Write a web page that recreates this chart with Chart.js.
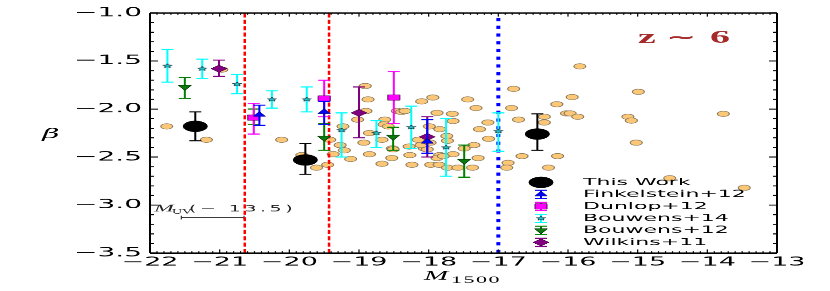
<!DOCTYPE html>
<html>
<head>
<meta charset="utf-8">
<script src="https://cdn.jsdelivr.net/npm/chart.js@4.4.1/dist/chart.umd.min.js"></script>
<style>
html, body { margin: 0; padding: 0; background: #fff; }
#beta { display: block; }
</style>
</head>
<body>
<canvas id="beta" width="830" height="640" style="width:830px;height:291px"></canvas>
<script>
// the source figure is stretched sideways, so draw tall and squeeze it down with css
const S = 2.2;
const H = 640;

const xMin = -22, xMax = -13;
const yMin = -3.5, yMax = -1.0;

// individual galaxies (orange)
const galM = [-21.76, -21.19, -20.97, -20.11, -19.82, -19.61, -19.45, -19.37, -19.42, -19.27,
  -19.21, -19.12, -19.23, -19.02, -18.91, -18.87, -18.90, -18.85, -18.93, -18.85,
  -18.63, -18.64, -18.58, -18.67, -18.52, -18.67, -18.53, -18.45, -18.39, -18.34,
  -18.10, -17.94, -18.28, -18.27, -18.24, -18.15, -18.06, -17.99, -17.88, -17.84,
  -17.66, -17.65, -17.74, -17.73, -17.84, -17.88, -17.97, -17.85, -17.73, -18.02,
  -18.11, -17.98, -17.58, -17.44, -17.32, -17.15, -17.27, -17.14, -17.35, -17.49,
  -17.65, -17.29, -17.79, -17.37, -16.86, -16.88, -16.78, -16.81, -16.71, -16.66,
  -16.34, -16.34, -16.16, -16.15, -16.28, -16.02, -15.83, -15.94, -15.97, -15.86,
  -14.99, -15.14, -15.09, -15.02, -13.77, -14.54, -13.47, -18.51];
const galBeta = [-2.18, -2.32, -1.59, -2.32, -2.48, -2.61, -2.58, -2.47, -2.32, -2.375,
  -2.43, -2.52, -2.18, -2.11, -1.76, -1.90, -2.02, -2.25, -2.35, -2.47,
  -2.11, -2.16, -2.18, -2.32, -2.41, -2.57, -2.51, -2.02, -2.03, -2.02,
  -1.92, -1.88, -2.39, -2.48, -2.58, -2.32, -2.41, -2.18, -2.04, -2.21,
  -2.05, -2.125, -2.28, -2.33, -2.48, -2.51, -2.58, -2.58, -2.61, -2.42,
  -2.375, -2.35, -2.61, -1.90, -1.99, -2.14, -2.21, -2.31, -2.375, -2.41,
  -2.47, -2.51, -2.49, -2.61, -2.56, -2.61, -1.79, -1.99, -2.11, -2.49,
  -2.08, -2.14, -1.95, -2.49, -2.61, -2.045, -1.555, -1.875, -2.045, -2.08,
  -1.82, -2.08, -2.12, -2.35, -2.05, -2.72, -2.82, -2.42];

// binned results, hi/lo = ends of the error bars
const workM = [-21.35, -19.77, -16.44];
const workBeta = [-2.18, -2.53, -2.26];
const workHi = [-2.03, -2.36, -2.05];
const workLo = [-2.33, -2.68, -2.43];

const finkM = [-20.43, -19.50, -18.02];
const finkBeta = [-2.06, -2.03, -2.34];
const finkHi = [-1.96, -1.92, -2.11];
const finkLo = [-2.17, -2.16, -2.46];

const dunM = [-20.51, -19.50, -18.50];
const dunBeta = [-2.09, -1.89, -1.88];
const dunHi = [-1.94, -1.70, -1.61];
const dunLo = [-2.26, -2.08, -2.15];

const bw14M = [-21.75, -21.25, -20.75, -20.25, -19.75, -19.25, -18.75, -18.25, -17.75, -17.00];
const bw14Beta = [-1.55, -1.58, -1.74, -1.90, -1.90, -2.22, -2.25, -2.19, -2.40, -2.23];
const bw14Hi = [-1.38, -1.48, -1.64, -1.81, -1.77, -2.04, -2.12, -1.97, -2.10, -2.04];
const bw14Lo = [-1.72, -1.68, -1.84, -1.99, -2.03, -2.50, -2.40, -2.41, -2.70, -2.44];

const bw12M = [-21.50, -20.51, -19.50, -18.51, -17.49];
const bw12Beta = [-1.77, -2.08, -2.30, -2.29, -2.54];
const bw12Hi = [-1.67, -2.00, -2.15, -2.19, -2.375];
const bw12Lo = [-1.89, -2.16, -2.43, -2.43, -2.71];

const wilkM = [-21.01, -19.00, -18.02];
const wilkBeta = [-1.58, -2.04, -2.29];
const wilkHi = [-1.49, -1.77, -2.08];
const wilkLo = [-1.66, -2.30, -2.50];

// limits drawn as vertical lines
const redLineM = [-20.64, -19.43];
const blueLineM = [-17.0];

// the M_UV(-13.5) scale bar
const muvBarM = [-21.55, -20.65];
const muvBarBeta = -3.13;

const pts = (xs, ys) => xs.map((x, i) => ({x: x, y: ys[i]}));
const vline = m => [{x: m, y: yMin}, {x: m, y: yMax}];

function makeStar(r, fill, edge) {
  const c = document.createElement('canvas');
  const n = Math.ceil(r * 2 + 4);
  c.width = n; c.height = n;
  const g = c.getContext('2d');
  g.translate(n / 2, n / 2);
  g.beginPath();
  for (let i = 0; i < 10; i++) {
    let rr = i % 2 ? r * 0.45 : r;
    let a = -Math.PI / 2 + i * Math.PI / 5;
    g.lineTo(rr * Math.cos(a), rr * Math.sin(a));
  }
  g.closePath();
  g.fillStyle = fill; g.fill();
  g.lineWidth = 1; g.strokeStyle = edge; g.stroke();
  return c;
}
const star = makeStar(5, '#22c4cc', '#0a2a36');

function minus(v, d) {
  let s = Math.abs(v).toFixed(d);
  return v < 0 ? '\u2212' + s : s;
}

const errorBars = {
  id: 'errorBars',
  beforeDatasetDraw(chart, args) {
    const ds = chart.data.datasets[args.index];
    if (!ds.errHi) return;
    const ctx = chart.ctx, xs = chart.scales.x, ys = chart.scales.y, a = chart.chartArea;
    ctx.save();
    ctx.beginPath();
    ctx.rect(a.left, a.top, a.right - a.left, a.bottom - a.top);
    ctx.clip();
    ctx.strokeStyle = ds.errColor;
    ds.data.forEach((p, i) => {
      let px = xs.getPixelForValue(p.x);
      let top = ys.getPixelForValue(ds.errHi[i]);
      let bot = ys.getPixelForValue(ds.errLo[i]);
      ctx.lineWidth = 2;
      ctx.beginPath();
      ctx.moveTo(px, top); ctx.lineTo(px, bot);
      ctx.stroke();
      ctx.lineWidth = 2.4;
      ctx.beginPath();
      ctx.moveTo(px - 6, top); ctx.lineTo(px + 6, top);
      ctx.moveTo(px - 6, bot); ctx.lineTo(px + 6, bot);
      ctx.stroke();
    });
    ctx.restore();
  }
};

const frame = {
  id: 'frame',
  afterDatasetsDraw(chart) {
    const ctx = chart.ctx, a = chart.chartArea, xs = chart.scales.x, ys = chart.scales.y;
    ctx.save();
    ctx.strokeStyle = '#000';
    ctx.lineWidth = 1.2;
    ctx.beginPath();
    for (let k = 0; k <= 90; k++) {
      let px = xs.getPixelForValue(xMin + k * 0.1);
      let len = k % 10 === 0 ? 8 : 4;
      ctx.moveTo(px, a.bottom); ctx.lineTo(px, a.bottom - len);
      ctx.moveTo(px, a.top); ctx.lineTo(px, a.top + len);
    }
    ctx.stroke();
    ctx.lineWidth = 2.2;
    ctx.beginPath();
    for (let k = 0; k <= 25; k++) {
      let py = ys.getPixelForValue(yMin + k * 0.1);
      let len = k % 5 === 0 ? 8 : 4;
      ctx.moveTo(a.left, py); ctx.lineTo(a.left + len, py);
      ctx.moveTo(a.right, py); ctx.lineTo(a.right - len, py);
    }
    ctx.stroke();
    ctx.lineWidth = 2.6;
    ctx.beginPath();
    ctx.moveTo(a.left, a.top); ctx.lineTo(a.right, a.top);
    ctx.moveTo(a.left, a.bottom); ctx.lineTo(a.right, a.bottom);
    ctx.stroke();
    ctx.lineWidth = 2;
    ctx.beginPath();
    ctx.moveTo(a.left, a.top); ctx.lineTo(a.left, a.bottom);
    ctx.moveTo(a.right, a.top); ctx.lineTo(a.right, a.bottom);
    ctx.stroke();
    ctx.restore();
  }
};

const legendRows = [
  {label: 'This Work', ds: 0},
  {label: 'Finkelstein+12', ds: 1},
  {label: 'Dunlop+12', ds: 2},
  {label: 'Bouwens+14', ds: 3},
  {label: 'Bouwens+12', ds: 4},
  {label: 'Wilkins+11', ds: 5}
];

const texts = {
  id: 'texts',
  afterDraw(chart) {
    const ctx = chart.ctx;
    ctx.save();
    ctx.fillStyle = '#000';
    ctx.textBaseline = 'alphabetic';

    // axis titles
    ctx.font = 'italic 30px "DejaVu Serif"';
    ctx.textAlign = 'center';
    ctx.fillText('\u03b2', 51, 138 * S);
    ctx.textAlign = 'left';
    ctx.font = 'italic 29px "Liberation Serif"';
    ctx.fillText('M', 424, 279.5 * S);
    ctx.font = '22px "Liberation Serif"';
    ctx.letterSpacing = '1.5px';
    ctx.fillText('1500', 451, 282.5 * S);
    ctx.letterSpacing = '0px';

    // M_UV(-13.5) note
    ctx.fillStyle = '#222';
    ctx.font = 'italic 24px "Liberation Serif"';
    ctx.fillText('M', 154, 211.5 * S);
    ctx.font = '14px "Liberation Serif"';
    ctx.fillText('UV', 172, 213.5 * S);
    ctx.font = '19px "DejaVu Sans"';
    ctx.letterSpacing = '3.5px';
    ctx.fillText('(\u2212 13.5)', 189, 211.5 * S);
    ctx.letterSpacing = '0px';

    // redshift tag
    ctx.fillStyle = '#a52a2a';
    ctx.font = 'bold 40px "Liberation Serif"';
    ctx.fillText('z', 638, 42.5 * S);
    ctx.fillText('6', 710, 42.5 * S);
    ctx.font = 'bold 36px "DejaVu Sans"';
    ctx.fillText('\u223c', 666, 42.5 * S);

    // legend
    legendRows.forEach((row, i) => {
      const ds = chart.data.datasets[row.ds];
      const y = (182.3 + 12 * i) * S;
      const x = 541;
      if (ds.errColor) {
        ctx.strokeStyle = ds.errColor;
        ctx.lineWidth = 2;
        ctx.beginPath();
        ctx.moveTo(x, y - 9); ctx.lineTo(x, y + 9);
        ctx.stroke();
        ctx.lineWidth = 2.4;
        ctx.beginPath();
        ctx.moveTo(x - 6, y - 9); ctx.lineTo(x + 6, y - 9);
        ctx.moveTo(x - 6, y + 9); ctx.lineTo(x + 6, y + 9);
        ctx.stroke();
      }
      ctx.fillStyle = ds.backgroundColor;
      ctx.strokeStyle = ds.borderColor;
      ctx.lineWidth = ds.borderWidth;
      Chart.helpers.drawPoint(ctx, {
        pointStyle: ds.pointStyle,
        rotation: ds.rotation || 0,
        radius: ds.pointRadius,
        borderWidth: ds.borderWidth
      }, x, y);
      ctx.fillStyle = '#000';
      ctx.font = '22px "DejaVu Sans"';
      ctx.textBaseline = 'middle';
      ctx.fillText(row.label, 583, y);
    });
    ctx.restore();
  }
};

new Chart(document.getElementById('beta'), {
  type: 'scatter',
  data: {
    datasets: [
      {label: 'This Work', data: pts(workM, workBeta), errHi: workHi, errLo: workLo, errColor: '#000',
        pointStyle: 'circle', pointRadius: 12, backgroundColor: '#000', borderColor: '#000', borderWidth: 1, order: 1},
      {label: 'Finkelstein+12', data: pts(finkM, finkBeta), errHi: finkHi, errLo: finkLo, errColor: '#0000ff',
        pointStyle: 'triangle', pointRadius: 7, backgroundColor: '#0000ff', borderColor: '#00008b', borderWidth: 1, order: 2},
      {label: 'Dunlop+12', data: pts(dunM, dunBeta), errHi: dunHi, errLo: dunLo, errColor: '#ff00ff',
        pointStyle: 'rect', pointRadius: 8.5, backgroundColor: '#ff00ff', borderColor: '#5a005a', borderWidth: 1, order: 3},
      {label: 'Bouwens+14', data: pts(bw14M, bw14Beta), errHi: bw14Hi, errLo: bw14Lo, errColor: '#00ffff',
        pointStyle: star, pointRadius: 5, backgroundColor: '#22c4cc', borderColor: '#0a2a36', borderWidth: 1, order: 4},
      {label: 'Bouwens+12', data: pts(bw12M, bw12Beta), errHi: bw12Hi, errLo: bw12Lo, errColor: '#008000',
        pointStyle: 'triangle', rotation: 180, pointRadius: 7.5, backgroundColor: '#0a7a0a', borderColor: '#003000', borderWidth: 1, order: 5},
      {label: 'Wilkins+11', data: pts(wilkM, wilkBeta), errHi: wilkHi, errLo: wilkLo, errColor: '#800080',
        pointStyle: 'rectRot', pointRadius: 8, backgroundColor: '#800080', borderColor: '#3a003a', borderWidth: 1, order: 6},
      {label: 'red1', data: vline(redLineM[0]), showLine: true, pointRadius: 0, borderColor: '#ff0000', borderWidth: 2.5, borderDash: [9, 5], order: 8},
      {label: 'red2', data: vline(redLineM[1]), showLine: true, pointRadius: 0, borderColor: '#ff0000', borderWidth: 2.5, borderDash: [9, 5], order: 8},
      {label: 'blue', data: vline(blueLineM[0]), showLine: true, pointRadius: 0, borderColor: '#0000ff', borderWidth: 4, borderDash: [7, 10], order: 8},
      {label: 'muv', data: pts(muvBarM, [muvBarBeta, muvBarBeta]), showLine: true, borderColor: '#333', borderWidth: 2.2,
        pointStyle: 'line', rotation: 90, pointRadius: 4, pointBorderWidth: 1.2, pointBorderColor: '#333', order: 8},
      {label: 'galaxies', data: pts(galM, galBeta), pointStyle: 'circle', pointRadius: 6,
        backgroundColor: '#fcc878', borderColor: '#8c7b5e', borderWidth: 1.2, order: 10}
    ]
  },
  options: {
    responsive: false,
    animation: false,
    events: [],
    layout: {padding: {top: 13 * S, right: 53, bottom: 0, left: 0}},
    plugins: {legend: {display: false}, tooltip: {enabled: false}},
    scales: {
      x: {
        type: 'linear', min: xMin, max: xMax,
        afterFit: s => { s.height = H - 253 * S; },
        grid: {display: false, drawTicks: false},
        border: {display: false},
        ticks: {stepSize: 1, padding: 4, color: '#000', maxRotation: 0, autoSkip: false,
          font: {family: 'DejaVu Sans', size: 27}, callback: v => minus(v, 0)}
      },
      y: {
        type: 'linear', min: yMin, max: yMax,
        afterFit: s => { s.width = 150; },
        grid: {display: false, drawTicks: false},
        border: {display: false},
        ticks: {stepSize: 0.5, padding: 8, color: '#000',
          font: {family: 'DejaVu Sans', size: 28}, callback: v => minus(v, 1)}
      }
    }
  },
  plugins: [errorBars, frame, texts]
});
</script>
</body>
</html>
